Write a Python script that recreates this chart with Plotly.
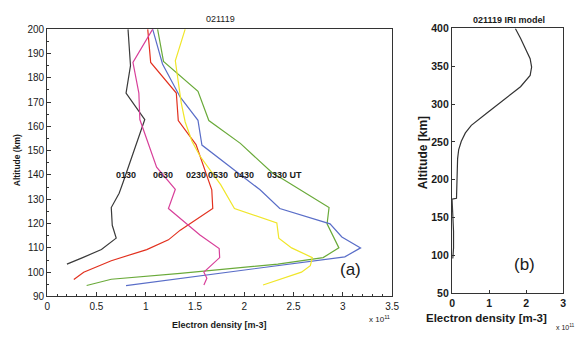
import plotly.graph_objects as go

# Ionosonde electron-density profiles, 2002-11-19 (units of 1e11 m^-3)
alt_0130 = [200, 185, 173.7, 162.8, 137, 132.5, 126.6, 119.3, 114, 109.3, 106, 103.3]
ne_0130 = [0.82, 0.845, 0.80, 0.99, 0.77, 0.73, 0.65, 0.66, 0.70, 0.55, 0.36, 0.20]

alt_0230 = [200, 186.3, 173.7, 162.4, 152.5, 137.8, 133.9, 126.2, 117.3, 113.3, 109.3, 104.7, 100, 97]
ne_0230 = [1.02, 1.05, 1.31, 1.33, 1.51, 1.64, 1.67, 1.68, 1.35, 1.23, 1.01, 0.65, 0.37, 0.27]

alt_0330 = [200, 186.7, 174.4, 162.4, 153, 141, 137.8, 126.6, 119.9, 110, 106, 103.3, 99.5, 97.1, 94.5]
ne_0330 = [1.12, 1.18, 1.53, 1.64, 1.96, 2.28, 2.41, 2.86, 2.84, 2.96, 2.80, 2.34, 1.35, 0.65, 0.40]

alt_0430 = [200, 185.7, 172, 162.5, 152.3, 142.5, 133.9, 126.2, 120.8, 119.9, 114.5, 110, 106.3, 94.5]
ne_0430 = [1.07, 1.17, 1.35, 1.53, 1.57, 1.89, 2.16, 2.36, 2.82, 2.87, 2.99, 3.18, 3.02, 0.80]

alt_0530 = [200, 187, 169.7, 161.8, 153.8, 147.8, 136, 126.2, 120.3, 114, 110, 106, 102.7, 100, 94.7]
ne_0530 = [1.40, 1.30, 1.36, 1.40, 1.47, 1.55, 1.76, 1.90, 2.33, 2.35, 2.48, 2.69, 2.67, 2.58, 2.19]

alt_0630 = [200, 186.3, 173.7, 162.8, 143.2, 134.1, 126.2, 115.3, 109.7, 106, 100, 97.5, 94.7]
ne_0630 = [1.07, 0.87, 0.93, 0.94, 1.11, 1.30, 1.23, 1.55, 1.745, 1.75, 1.59, 1.62, 1.59]

# IRI model profile
alt_iri = [96, 110, 132, 155, 174.5, 175.5, 200, 228, 240, 251, 262, 272, 289, 306, 323, 338, 349, 360, 370, 387, 400]
ne_iri = [0.02, 0.04, 0.04, 0.02, 0.0, 0.12, 0.13, 0.15, 0.18, 0.25, 0.36, 0.52, 0.96, 1.40, 1.85, 2.11, 2.15, 2.11, 2.02, 1.85, 1.71]

# Time labels placed at 140 km
label_text = ["0130", "0630", "0230", "0530", "0430", "0330 UT"]
label_x = [0.80, 1.17, 1.505, 1.73, 1.994, 2.41]
label_alt = 140

profiles = [
    (ne_0130, alt_0130, "#3a3a3a"),
    (ne_0230, alt_0230, "#e2311f"),
    (ne_0330, alt_0330, "#6aaa3a"),
    (ne_0430, alt_0430, "#5a6ec8"),
    (ne_0530, alt_0530, "#f0e62a"),
    (ne_0630, alt_0630, "#d8409a"),
]

W, H = 575, 343
FONT = "Liberation Sans, Arial, sans-serif"


def px(x):
    return x / W


def py(y):
    return 1 - y / H


fig = go.Figure()
for ne, alt, col in profiles:
    fig.add_trace(go.Scatter(x=ne, y=alt, mode="lines", line=dict(color=col, width=1.2),
                             xaxis="x", yaxis="y", showlegend=False, hoverinfo="skip"))
fig.add_trace(go.Scatter(x=ne_iri, y=alt_iri, mode="lines", line=dict(color="#333333", width=1.2),
                         xaxis="x2", yaxis="y2", showlegend=False, hoverinfo="skip"))

axis_common = dict(showline=True, mirror=True, linecolor="#333333", linewidth=1.3,
                   ticks="inside", tickcolor="#333333", showgrid=False, zeroline=False)
font_a = dict(family=FONT, size=10, color="#1a1a1a")
font_b = dict(family=FONT, size=10.5, color="#1a1a1a", weight="bold")

fig.update_layout(
    width=W, height=H,
    margin=dict(l=0, r=0, t=0, b=0),
    paper_bgcolor="white", plot_bgcolor="white",
    xaxis=dict(domain=[px(45), px(396)], range=[0, 3.5], dtick=0.5, ticklen=4, tickfont=font_a,
               minor=dict(dtick=0.1, ticks="inside", ticklen=2, tickcolor="#333333"),
               anchor="y", **axis_common),
    yaxis=dict(domain=[py(301), py(24)], range=[90, 200], dtick=10, ticklen=4, tickfont=font_a,
               minor=dict(dtick=5, ticks="inside", ticklen=2, tickcolor="#333333"),
               anchor="x", **axis_common),
    xaxis2=dict(domain=[px(457), px(570)], range=[0, 3], dtick=1, ticklen=3, tickfont=font_b,
                anchor="y2", **axis_common),
    yaxis2=dict(domain=[py(297.7), py(23.3)], range=[50, 400], dtick=50, ticklen=3, tickfont=font_b,
                anchor="x2", **axis_common),
)

ann = []
for t, x in zip(label_text, label_x):
    ann.append(dict(x=x, y=label_alt, xref="x", yref="y", text=f"<b>{t}</b>", showarrow=False,
                    font=dict(family=FONT, size=9, color="#1a1a1a")))


def txt(x, y, s, size, angle=0, anchor="center"):
    ann.append(dict(x=px(x), y=py(y), xref="paper", yref="paper", text=s, showarrow=False,
                    textangle=angle, xanchor=anchor, yanchor="middle",
                    font=dict(family=FONT, size=size, color="#1a1a1a")))


txt(221, 13, "021119", 9)
txt(220, 331, "<b>Electron density [m-3]</b>", 9)
txt(370, 324, "x 10<sup>11</sup>", 8, anchor="left")
txt(15, 160, "<b>Altitude (km)</b>", 8.5, angle=-90)
txt(354, 273, "(a)", 17)

txt(515, 15, "<b>021119 IRI model</b>", 9)
txt(492, 323, "<b>Electron density [m-3]</b>", 11.5)
txt(561, 333, "x 10<sup>11</sup>", 7, anchor="left")
txt(427, 152, "<b>Altitude [km]</b>", 12, angle=-90)
txt(531, 268, "(b)", 17)

fig.update_layout(annotations=ann)
fig.write_html("out.html")
